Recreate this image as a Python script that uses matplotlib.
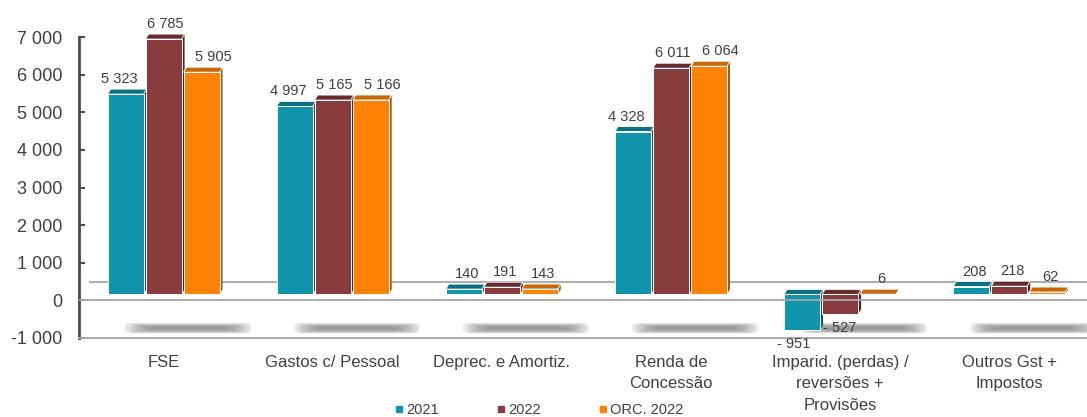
import matplotlib
matplotlib.use("Agg")
import matplotlib.pyplot as plt
from matplotlib.patches import Polygon, Rectangle
from matplotlib.lines import Line2D
from matplotlib.transforms import offset_copy

# ---------------- data ----------------
categories = ["FSE", "Gastos c/ Pessoal", "Deprec. e Amortiz.", "Renda de\nConcessão",
              "Imparid. (perdas) /\nreversões +\nProvisões", "Outros Gst +\nImpostos"]
series_names = ["2021", "2022", "ORC. 2022"]
values_2021 = [5323, 4997, 140, 4328, -951, 208]
values_2022 = [6785, 5165, 191, 6011, -527, 218]
values_orc2022 = [5905, 5166, 143, 6064, 6, 62]
y_ticks = [-1000, 0, 1000, 2000, 3000, 4000, 5000, 6000, 7000]

front_colors = ["#1195ad", "#883c3e", "#ff8206"]
top_colors = ["#0b6f80", "#692a2d", "#c7680a"]
side_colors = ["#0a5b69", "#55201f", "#a85700"]
text_color = "#404040"
line_color = "#a6a6a6"

plt.rcParams["font.family"] = ["Liberation Sans", "DejaVu Sans"]

W, H, DPI = 1087, 417, 100
fig = plt.figure(figsize=(W / DPI, H / DPI), dpi=DPI)
ax_left_px, ax_right_px, ax_top_px, ax_bot_px = 79, 1087, 37, 338
ax = fig.add_axes([ax_left_px / W, (H - ax_bot_px) / H,
                   (ax_right_px - ax_left_px) / W, (ax_bot_px - ax_top_px) / H])
xlim = (-0.5, 5.46)
ylim = (-1000, 7000)
ax.set_xlim(*xlim)
ax.set_ylim(*ylim)

# pixel -> data unit conversions
sx = (xlim[1] - xlim[0]) / (ax_right_px - ax_left_px)
sy = (ylim[1] - ylim[0]) / (ax_bot_px - ax_top_px)

def fmt(v):
    s = f"{abs(v):,}".replace(",", " ")
    return ("- " + s) if v < 0 else s

base_px = 6      # front faces raised (3D floor)
depth_dx, depth_dy = 3, 5   # 3D depth in px
ddx, ddy = depth_dx * sx, depth_dy * sy
pitch = 38 * sx
bw = 36 * sx
label_dx = [-8, 0, 10]   # label spread per series for tall bars, px

t_front = offset_copy(ax.transData, fig=fig, x=0, y=base_px, units="dots")

all_series = [values_2021, values_2022, values_orc2022]
for i in range(len(categories)):
    for j, vals in enumerate(all_series):
        v = vals[i]
        x0 = i + (j - 1) * pitch - bw / 2
        x1 = x0 + bw
        lo, hi = min(0, v), max(0, v)
        z = 3 + 0.1 * j
        side = Polygon([(x1, lo), (x1 + ddx, lo + ddy), (x1 + ddx, hi + ddy), (x1, hi)],
                       closed=True, fc=side_colors[j], ec="none", transform=t_front,
                       zorder=z, clip_on=False)
        top = Polygon([(x0, hi), (x1, hi), (x1 + ddx, hi + ddy), (x0 + ddx, hi + ddy)],
                      closed=True, fc=top_colors[j], ec="white", lw=0.6, transform=t_front,
                      zorder=z + 0.01, clip_on=False)
        front = Rectangle((x0, lo), bw, hi - lo, fc=front_colors[j], ec="white", lw=0.7,
                          transform=t_front, zorder=z + 0.02, clip_on=False)
        ax.add_patch(side)
        ax.add_patch(top)
        ax.add_patch(front)
        xc = (x0 + x1) / 2
        spread = label_dx[j] if abs(v) >= 1000 else 2
        if v >= 0:
            tt = offset_copy(ax.transData, fig=fig, x=depth_dx / 2 + spread,
                             y=base_px + depth_dy + 6, units="dots")
            ax.text(xc, hi, fmt(v), transform=tt, ha="center", va="baseline",
                    fontsize=10.5, color=text_color, zorder=20, clip_on=False)
        else:
            tt = offset_copy(ax.transData, fig=fig, x=label_dx[j], y=base_px - 7,
                             units="dots")
            ax.text(xc, lo, fmt(v), transform=tt, ha="center", va="top",
                    fontsize=10.5, color=text_color, zorder=20, clip_on=False)

# back wall floor line
t_back = offset_copy(ax.transData, fig=fig, x=0, y=18, units="dots")
ax.plot([xlim[0] + 10 * sx, xlim[1]], [0, 0], color=line_color, lw=1.3,
        transform=t_back, zorder=1, solid_capstyle="butt")
# zero line (drawn in front)
ax.axhline(0, color=line_color, lw=1.3, zorder=15)

# floor shadows (soft)
t_shadow = offset_copy(ax.transData, fig=fig, x=0, y=-28, units="dots")
for i in range(len(categories)):
    xc = i + 24 * sx
    for k in range(8):
        half = (58 - 3 * k) * sx
        lw = 7.5 - 0.8 * k
        ax.plot([xc - half, xc + half], [0, 0], color="#808080", lw=lw, alpha=0.17,
                solid_capstyle="round", transform=t_shadow, zorder=2)

# axes styling
for s in ["top", "right"]:
    ax.spines[s].set_visible(False)
ax.spines["left"].set_color("#4a4a4a")
ax.spines["left"].set_linewidth(2)
ax.spines["bottom"].set_color(line_color)
ax.spines["bottom"].set_linewidth(1.3)

ax.set_yticks(y_ticks)
ax.set_yticklabels([fmt(t) if t >= 0 else "-" + fmt(-t) for t in y_ticks])
ax.tick_params(axis="y", direction="in", length=4, width=1.5, color="#4a4a4a",
               labelsize=13, labelcolor=text_color, pad=12)
ax.set_xticks(range(len(categories)))
ax.set_xticklabels(categories, linespacing=1.55)
ax.tick_params(axis="x", length=0, labelsize=12, labelcolor=text_color, pad=12)

handles = [Line2D([], [], marker="s", linestyle="", color=c, markersize=5)
           for c in front_colors]
fig.legend(handles, series_names, loc="center", bbox_to_anchor=(0.496, 7 / H),
           ncol=3, frameon=False, fontsize=10.5, handlelength=0.5, handletextpad=0.25,
           columnspacing=4.0, labelcolor=text_color)

fig.savefig("out.png", dpi=DPI)
